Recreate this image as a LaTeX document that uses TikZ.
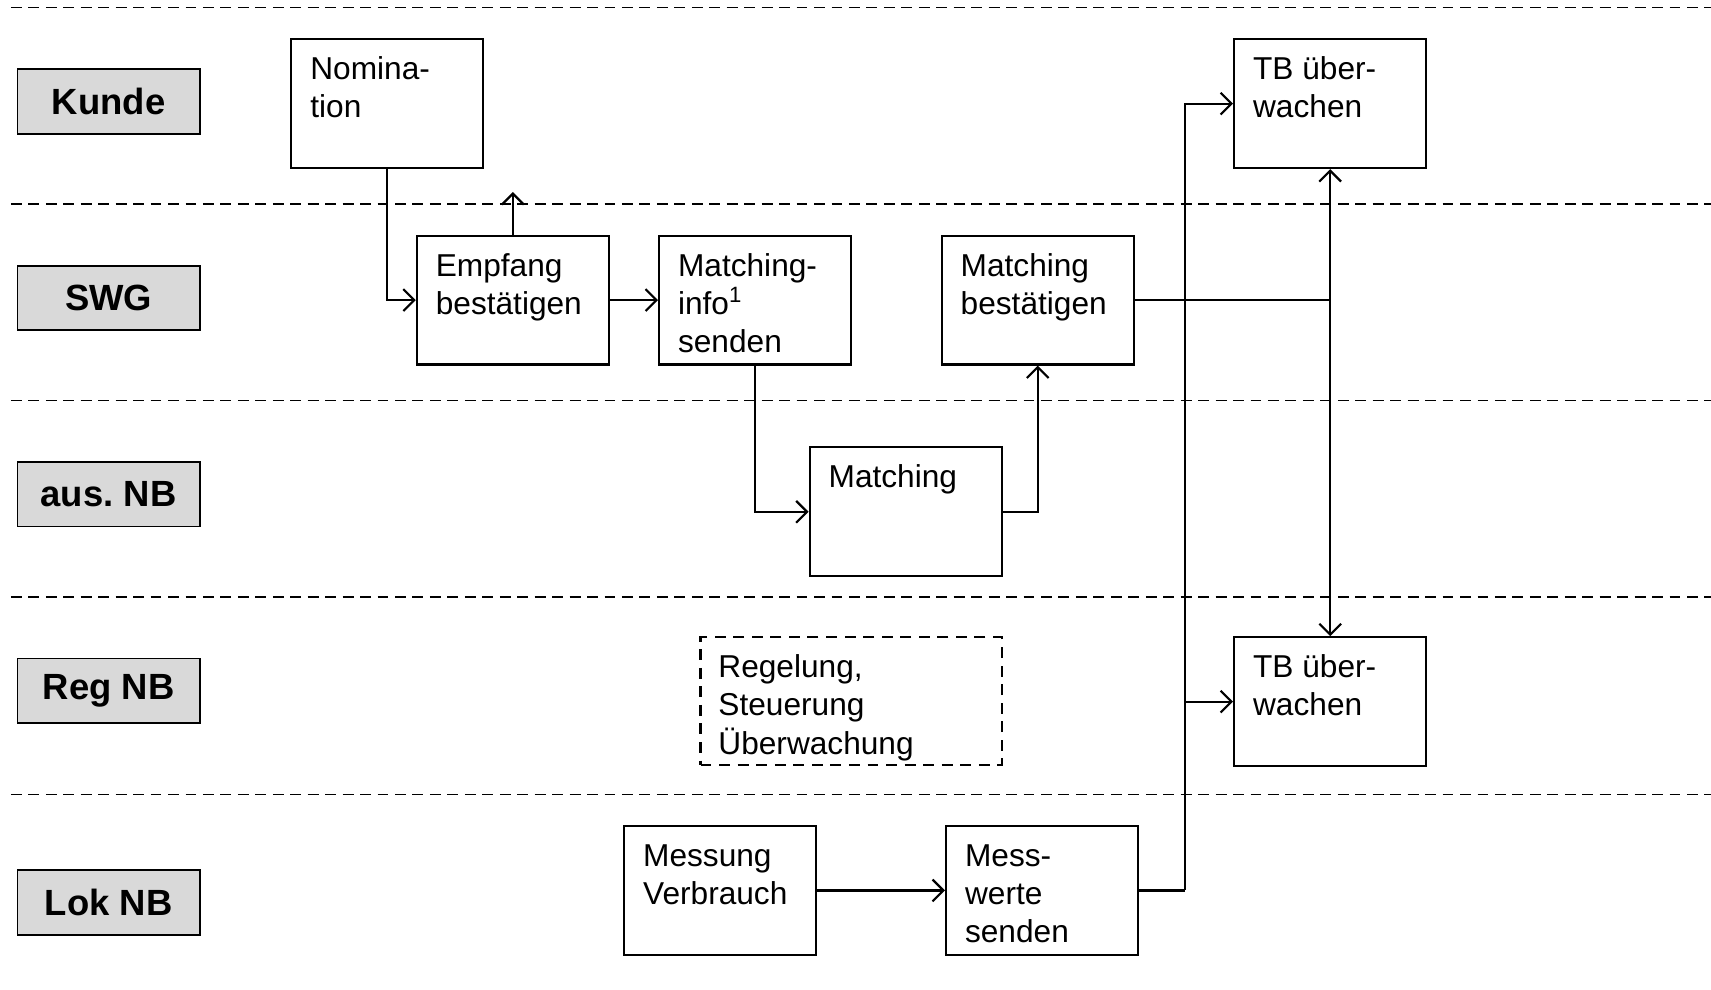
\documentclass[tikz,border=0pt]{standalone}
\usepackage{fontspec}
\setmainfont{Liberation Sans}
\frenchspacing
\usetikzlibrary{arrows.meta,calc}
\definecolor{lanegray}{HTML}{D9D9D9}
\tikzset{
  box/.style={draw, line width=1pt, minimum width=88pt, minimum height=59pt, inner sep=0pt, anchor=north west},
  dbox/.style={draw, line width=1pt, dash pattern=on 5pt off 3.5pt, minimum width=138pt, minimum height=58.5pt, inner sep=0pt, anchor=north west},
  lane/.style={draw, line width=0.8pt, fill=lanegray, minimum width=83.5pt, minimum height=29.5pt, inner sep=0pt, font=\fontsize{16.7}{20}\selectfont\bfseries},
  txt/.style={anchor=base west, inner sep=0pt},
  sep/.style={line width=0.75pt, dash pattern=on 5pt off 3pt},
  conn/.style={line width=1pt},
  arr/.style={conn, -{Straight Barb[length=5pt,width=10pt,line width=1pt]}}
}
\newcommand{\boxtext}[1]{\begin{minipage}[t]{120pt}\fontsize{14.5}{17.5}\selectfont\raggedright #1\end{minipage}}
\begin{document}
\begin{tikzpicture}[x=0.5pt,y=-0.5pt]
\useasboundingbox (0,0) rectangle (1568,907);
% lane separators
\foreach \yy in {7,187,367,547,728} \draw[sep] (10,\yy) -- (1568,\yy);
% lane labels
\node[lane] (lkunde) at (99.5,93) {Kunde};
\node[lane] (lswg) at (99.5,273) {SWG};
\node[lane] (laus) at (99.5,453) {aus. NB};
\node[lane] (lreg) at (99.5,633) {Reg NB};
\node[lane] (llok) at (99.5,827) {Lok NB};
% boxes
\node[box] (nom) at (266,35) {};
\node[box] (emp) at (381,215) {};
\node[box] (mi) at (603,215) {};
\node[box] (mb) at (862,215) {};
\node[box] (tb1) at (1130,35) {};
\node[box] (mat) at (741,409) {};
\node[dbox] (reg) at (641,583) {};
\node[box] (tb2) at (1130,583) {};
\node[box] (mv) at (571,756) {};
\node[box] (mw) at (866,756) {};
% texts
\node[txt] (nomt) at ($(nom.north west)+(18,38)$) {\boxtext{Nomina-\\tion}};
\node[txt] (empt) at ($(emp.north west)+(18,38)$) {\boxtext{Empfang\\bestätigen}};
\node[txt] (mit) at ($(mi.north west)+(18,38)$) {\boxtext{Matching-\\info\textsuperscript{1}\\senden}};
\node[txt] (mbt) at ($(mb.north west)+(18,38)$) {\boxtext{Matching\\bestätigen}};
\node[txt] (tb1t) at ($(tb1.north west)+(18,38)$) {\boxtext{TB über-\\wachen}};
\node[txt] (matt) at ($(mat.north west)+(18,38)$) {\boxtext{Matching}};
\node[txt] (regt) at ($(reg.north west)+(17,38)$) {\boxtext{Regelung,\\Steuerung\\Überwachung}};
\node[txt] (tb2t) at ($(tb2.north west)+(18,38)$) {\boxtext{TB über-\\wachen}};
\node[txt] (mvt) at ($(mv.north west)+(18,38)$) {\boxtext{Messung\\Verbrauch}};
\node[txt] (mwt) at ($(mw.north west)+(18,38)$) {\boxtext{Mess-\\werte\\senden}};
% connectors
\coordinate (empup) at ($(emp.north)+(0,-39)$);
\coordinate (j1) at (tb1.south |- mb.east);
\coordinate (j2) at (1086,0 |- mw.east);
\draw[arr] (nom.south) |- (emp.west);
\draw[arr] (emp.north) -- (empup);
\draw[arr] (emp.east) -- (mi.west);
\draw[arr] (mi.south) |- (mat.west);
\draw[arr] (mat.east) -| (mb.south);
\draw[conn] (mb.east) -- (j1);
\draw[arr] (j1) -- (tb1.south);
\draw[arr] (j1) -- (tb2.north);
\draw[arr] (mv.east) -- (mw.west);
\draw[conn] (mw.east) -- (j2);
\draw[arr] (j2) |- (tb1.west);
\draw[arr] (j2 |- tb2.west) -- (tb2.west);
\end{tikzpicture}
\end{document}
